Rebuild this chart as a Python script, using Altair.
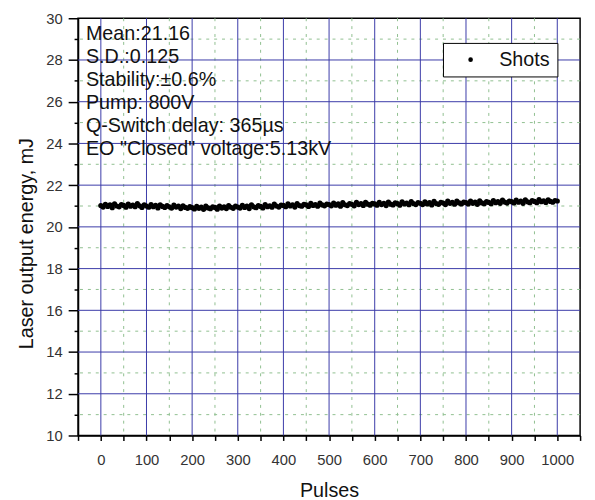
import altair as alt
import pandas as pd

# ---- data ----
pulse_step = 5
energy = [
    21.02, 20.95, 21.08, 20.98, 21.05, 20.92, 21.10, 21.00, 20.96, 21.07, 21.03, 20.94, 21.09, 20.99, 21.04, 20.97, 21.11, 21.01, 20.93, 21.06,
    21.00, 20.94, 21.07, 20.97, 21.03, 20.91, 21.05, 20.98, 20.93, 21.02, 20.96, 20.90, 21.04, 20.95, 20.99, 20.88, 21.01, 20.93, 20.89, 20.97,
    20.92, 20.86, 20.98, 20.89, 20.95, 20.84, 20.99, 20.91, 20.87, 20.96, 20.93, 20.85, 21.00, 20.90, 20.96, 20.88, 21.02, 20.94, 20.89, 20.99,
    20.95, 20.90, 21.03, 20.93, 20.99, 20.88, 21.05, 20.96, 20.92, 21.02, 20.98, 20.91, 21.07, 20.97, 21.01, 20.94, 21.09, 21.00, 20.95, 21.04,
    21.03, 20.97, 21.10, 21.00, 21.06, 20.95, 21.12, 21.02, 20.99, 21.08, 21.05, 20.98, 21.13, 21.03, 21.07, 20.99, 21.14, 21.05, 21.01, 21.09,
    21.07, 21.01, 21.14, 21.04, 21.10, 20.99, 21.16, 21.06, 21.02, 21.12, 21.08, 21.01, 21.17, 21.07, 21.11, 21.03, 21.18, 21.09, 21.04, 21.13,
    21.10, 21.04, 21.17, 21.07, 21.13, 21.02, 21.19, 21.09, 21.05, 21.15, 21.11, 21.04, 21.20, 21.10, 21.14, 21.06, 21.21, 21.12, 21.07, 21.16,
    21.13, 21.07, 21.20, 21.10, 21.16, 21.05, 21.22, 21.12, 21.08, 21.18, 21.14, 21.07, 21.23, 21.13, 21.17, 21.09, 21.24, 21.15, 21.10, 21.19,
    21.16, 21.10, 21.23, 21.13, 21.19, 21.08, 21.25, 21.15, 21.11, 21.21, 21.17, 21.11, 21.26, 21.16, 21.21, 21.13, 21.28, 21.19, 21.14, 21.23,
    21.21, 21.15, 21.28, 21.18, 21.24, 21.13, 21.30, 21.20, 21.16, 21.26, 21.22, 21.16, 21.31, 21.21, 21.25, 21.17, 21.30, 21.22, 21.18, 21.26,
    21.24,
]
pulses = [i * pulse_step for i in range(len(energy))]
series_name = "Shots"

x_major_grid = [0, 100, 200, 300, 400, 500, 600, 700, 800, 900, 1000]
x_minor_grid = [50, 150, 250, 350, 450, 550, 650, 750, 850, 950]
y_major_grid = [12, 14, 16, 18, 20, 22, 24, 26, 28]
y_minor_grid = [11, 13, 15, 17, 19, 21, 23, 25, 27, 29]
x_ticks = list(range(-50, 1051, 50))
y_ticks = list(range(10, 31))

notes = [
    "Mean:21.16",
    "S.D.:0.125",
    "Stability:\u00b10.6%",
    "Pump: 800V",
    "Q-Switch delay: 365\u00b5s",
    "EO \"Closed\" voltage:5.13kV",
]

# ---- tables ----
df = pd.DataFrame({"Pulses": pulses, "Energy": energy, "series": series_name})
df_notes = pd.DataFrame({"text": notes, "i": list(range(len(notes)))})

xs = alt.Scale(domain=[-50, 1050], nice=False, zero=False)
ys = alt.Scale(domain=[10, 30], nice=False, zero=False)

x_axis = alt.Axis(
    values=x_ticks,
    labelExpr="datum.value >= 0 && datum.value % 100 == 0 && datum.value <= 1000 ? datum.value : ''",
    tickSize=5,
    labelPadding=12,
    titlePadding=14,
)
y_axis = alt.Axis(
    values=y_ticks,
    labelExpr="datum.value % 2 == 0 ? datum.value : ''",
    tickSize={"condition": {"test": "datum.value % 2 == 0", "value": 10}, "value": 4},
    labelPadding=6,
    titlePadding=9,
    titleY=228,
)
X_TITLE = "Pulses"
Y_TITLE = "Laser output energy, mJ"

BLUE = "#3a3aa8"
GREEN = "#8fbf8f"

vmin = alt.Chart(pd.DataFrame({"x": x_minor_grid})).mark_rule(
    color=GREEN, strokeDash=[3, 5], strokeWidth=1
).encode(x=alt.X("x:Q", scale=xs, axis=x_axis, title=X_TITLE))
hmin = alt.Chart(pd.DataFrame({"y": y_minor_grid})).mark_rule(
    color=GREEN, strokeDash=[3, 5], strokeWidth=1
).encode(y=alt.Y("y:Q", scale=ys, axis=y_axis, title=Y_TITLE))
vmaj = alt.Chart(pd.DataFrame({"x": x_major_grid})).mark_rule(
    color=BLUE, strokeWidth=1
).encode(x=alt.X("x:Q", scale=xs, axis=x_axis, title=X_TITLE))
hmaj = alt.Chart(pd.DataFrame({"y": y_major_grid})).mark_rule(
    color=BLUE, strokeWidth=1
).encode(y=alt.Y("y:Q", scale=ys, axis=y_axis, title=Y_TITLE))

points = alt.Chart(df).mark_circle(size=28, opacity=1).encode(
    x=alt.X("Pulses:Q", scale=xs, axis=x_axis, title=X_TITLE),
    y=alt.Y("Energy:Q", scale=ys, axis=y_axis, title=Y_TITLE),
    color=alt.Color(
        "series:N",
        scale=alt.Scale(range=["black"]),
        legend=alt.Legend(
            title=None,
            orient="none",
            legendX=370,
            legendY=25,
            strokeColor="black",
            padding=7,
            symbolOffset=11,
            labelOffset=19,
            labelFontSize=20,
            labelFont="Liberation Sans",
            labelColor="#111",
            symbolSize=22,
            symbolType="circle",
            fillColor="white",
        ),
    ),
)

texts = alt.Chart(df_notes).transform_calculate(
    py="16 + 23.4 * datum.i"
).mark_text(
    align="left", baseline="middle", font="Liberation Sans", fontSize=20, color="#111"
).encode(
    x=alt.value(8),
    y=alt.Y("py:Q", scale=None, axis=None),
    text="text:N",
)

chart = alt.layer(vmin, hmin, vmaj, hmaj, points, texts).properties(
    width=509,
    height=423,
    autosize=alt.AutoSizeParams(type="none"),
    padding={"left": 71, "top": 7, "right": 7, "bottom": 62},
).configure_view(
    stroke="black", strokeWidth=1.5
).configure_axis(
    domainColor="black",
    domainWidth=1.5,
    tickColor="black",
    tickWidth=1.5,
    grid=False,
    labelFont="Liberation Sans",
    labelFontSize=15,
    labelColor="#333",
    titleFont="Liberation Sans",
    titleFontSize=20,
    titleFontWeight="normal",
    titleColor="#111",
)

chart.save("out.html", embed_options={"renderer": "svg", "actions": False})
